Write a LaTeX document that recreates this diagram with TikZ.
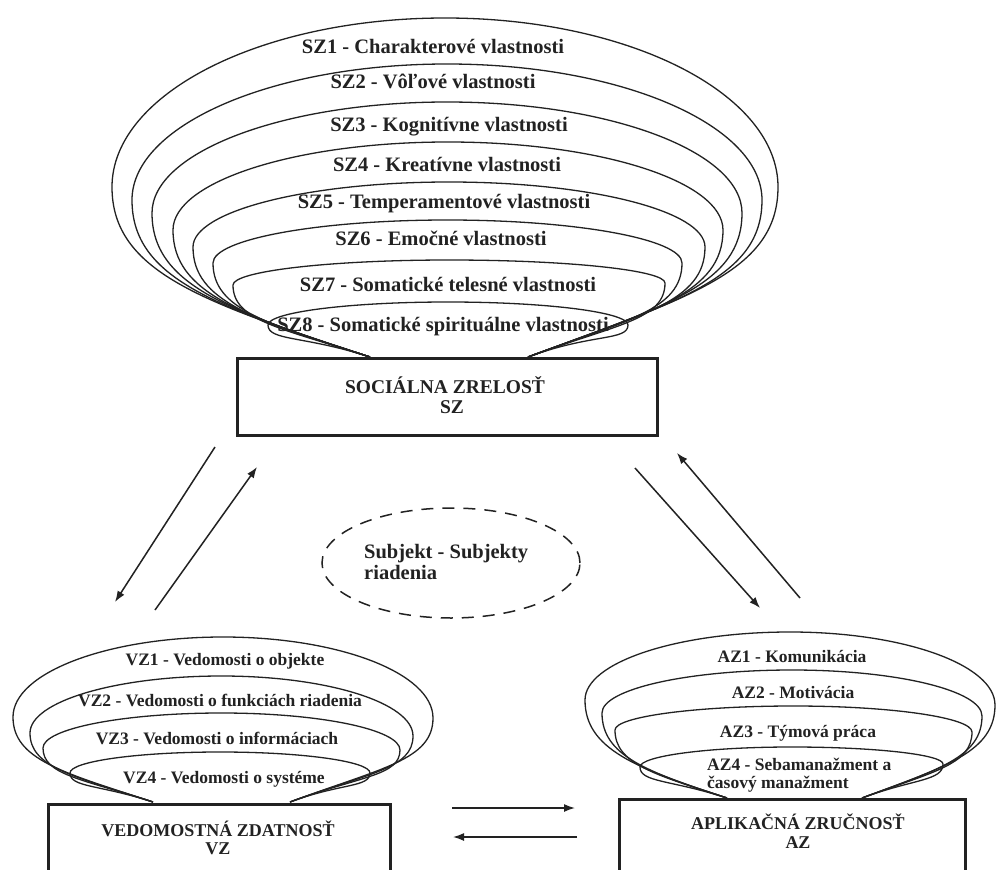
\documentclass[tikz,border=0pt]{standalone}
\usepackage{fontspec}
\setmainfont{Liberation Serif}
\usetikzlibrary{arrows.meta,shapes.geometric}
\definecolor{ink}{HTML}{222222}
\newcommand\funnelloop[9]{%
 \pgfmathsetmacro\flXc{(#5+#8)/2}%
 \pgfmathsetmacro\flS{0.68*(#1-#5)}%
 \pgfmathsetmacro\flAx{#1-0.95*\flS}%
 \pgfmathsetmacro\flAy{#2-0.31*\flS}%
 \pgfmathsetmacro\flBy{#6+0.5*(#2-#6)}%
 \pgfmathsetmacro\flCy{#6-0.552*(#6-#7)}%
 \pgfmathsetmacro\flDx{\flXc-0.552*(\flXc-#5)}%
 \pgfmathsetmacro\flEx{\flXc+0.552*(#8-\flXc)}%
 \pgfmathsetmacro\flFy{#9-0.552*(#9-#7)}%
 \pgfmathsetmacro\flGy{#9+0.5*(#4-#9)}%
 \pgfmathsetmacro\flT{0.68*(#8-#3)}%
 \pgfmathsetmacro\flHx{#3+0.94*\flT}%
 \pgfmathsetmacro\flHy{#4-0.35*\flT}%
 \draw[loopline] (#1,#2) .. controls (\flAx,\flAy) and (#5,\flBy) .. (#5,#6) .. controls (#5,\flCy) and (\flDx,#7) .. (\flXc,#7) .. controls (\flEx,#7) and (#8,\flFy) .. (#8,#9) .. controls (#8,\flGy) and (\flHx,\flHy) .. (#3,#4);
}
\tikzset{
 loopline/.style={draw=ink,line width=1.3pt},
 mainbox/.style={draw=ink,line width=3pt,inner sep=0pt,fill=none},
 szlabel/.style={anchor=base,inner sep=0pt,text=ink,font=\fontsize{20.5}{20.5}\selectfont\bfseries},
 smlabel/.style={anchor=base,inner sep=0pt,text=ink,font=\fontsize{17.5}{17.5}\selectfont\bfseries},
 boxlabel/.style={anchor=base,inner sep=0pt,text=ink,font=\fontsize{19.5}{19.5}\selectfont\bfseries},
 sboxlabel/.style={anchor=base,inner sep=0pt,text=ink,font=\fontsize{18}{18}\selectfont\bfseries},
 subjlabel/.style={anchor=base west,inner sep=0pt,text=ink,font=\fontsize{20.5}{20.5}\selectfont\bfseries},
 link/.style={draw=ink,line width=1.5pt,-{Latex[length=11pt,width=8pt]}},
}
\begin{document}
\begin{tikzpicture}[x=1pt,y=-1pt]
\useasboundingbox (0,0) rectangle (997,870);
\clip (0,0) rectangle (997,870);
\fill[white] (0,0) rectangle (997,870);

% ---------- SZ loops ----------
\funnelloop{370}{357}{528}{357}{112}{187}{18}{778}{187}
\funnelloop{370}{357}{528}{357}{132}{200}{64}{762}{200}
\funnelloop{370}{357}{528}{357}{152}{213}{102}{742}{213}
\funnelloop{370}{357}{528}{357}{173}{230}{142}{723}{230}
\funnelloop{370}{357}{528}{357}{193}{247}{182}{705}{247}
\funnelloop{370}{357}{528}{357}{213}{263}{220}{682}{263}
\funnelloop{370}{357}{528}{357}{233}{285}{260}{665}{283}
\funnelloop{370}{357}{528}{357}{268}{325}{302}{628}{325}

\node[szlabel] (sz1) at (433,53) {SZ1 - Charakterové vlastnosti};
\node[szlabel] (sz2) at (433,88) {SZ2 - Vôľové vlastnosti};
\node[szlabel] (sz3) at (449,131) {SZ3 - Kognitívne vlastnosti};
\node[szlabel] (sz4) at (447,171) {SZ4 - Kreatívne vlastnosti};
\node[szlabel] (sz5) at (444,208) {SZ5 - Temperamentové vlastnosti};
\node[szlabel] (sz6) at (441,245) {SZ6 - Emočné vlastnosti};
\node[szlabel] (sz7) at (448,291) {SZ7 - Somatické telesné vlastnosti};
\node[szlabel] (sz8) at (443,331) {SZ8 - Somatické spirituálne vlastnosti};

\node[mainbox,minimum width=420pt,minimum height=77pt] (szbox) at (447,396.5) {};
\node[boxlabel] (szt1) at (445,393) {SOCIÁLNA ZRELOSŤ};
\node[boxlabel] (szt2) at (452,413) {SZ};

% ---------- VZ loops ----------
\funnelloop{153}{802}{290}{802}{13}{717}{637}{433}{718}
\funnelloop{153}{802}{290}{802}{30}{733}{676}{413}{736}
\funnelloop{153}{802}{290}{802}{43}{748}{713}{400}{750}
\funnelloop{153}{802}{290}{802}{70}{773}{752}{370}{773}

\node[smlabel] (vz1) at (225,665) {VZ1 - Vedomosti o objekte};
\node[smlabel] (vz2) at (220,706) {VZ2 - Vedomosti o funkciách riadenia};
\node[smlabel] (vz3) at (217,744) {VZ3 - Vedomosti o informáciach};
\node[smlabel] (vz4) at (224,783) {VZ4 - Vedomosti o systéme};

\node[mainbox,minimum width=342pt,minimum height=90pt] (vzbox) at (219,849) {};
\node[sboxlabel] (vzt1) at (218,836) {VEDOMOSTNÁ ZDATNOSŤ};
\node[sboxlabel] (vzt2) at (218,854) {VZ};

% ---------- AZ loops ----------
\funnelloop{727}{798}{862}{798}{585}{700}{632}{995}{705}
\funnelloop{727}{798}{862}{798}{602}{713}{670}{982}{716}
\funnelloop{727}{798}{862}{798}{615}{730}{706}{972}{732}
\funnelloop{727}{798}{862}{798}{640}{767}{747}{943}{764}

\node[smlabel] (az1) at (792,662) {AZ1 - Komunikácia};
\node[smlabel] (az2) at (793,698) {AZ2 - Motivácia};
\node[smlabel] (az3) at (798,737) {AZ3 - Týmová práca};
\node[smlabel,anchor=base west] (az4a) at (707,770) {AZ4 - Sebamanažment a};
\node[smlabel,anchor=base west] (az4b) at (707,788) {časový manažment};

\node[mainbox,minimum width=346pt,minimum height=90pt] (azbox) at (792,844) {};
\node[sboxlabel] (azt1) at (798,829) {APLIKAČNÁ ZRUČNOSŤ};
\node[sboxlabel] (azt2) at (798,848) {AZ};

% ---------- dashed ellipse ----------
\node[ellipse,draw=ink,line width=1.5pt,dash pattern=on 12pt off 9pt,minimum width=258pt,minimum height=110pt,inner sep=0pt] (subj) at (451,563) {};
\node[subjlabel] (subjt1) at (364,558) {Subjekt - Subjekty};
\node[subjlabel] (subjt2) at (364,579) {riadenia};

% ---------- arrows ----------
\coordinate (a1s) at (215,447); \coordinate (a1e) at (115,602);
\coordinate (a2s) at (155,610); \coordinate (a2e) at (257,467);
\coordinate (a3s) at (635,468); \coordinate (a3e) at (760,608);
\coordinate (a4s) at (800,598); \coordinate (a4e) at (677,453);
\coordinate (a5s) at (452,808); \coordinate (a5e) at (575,808);
\coordinate (a6s) at (577,837); \coordinate (a6e) at (453,837);
\draw[link] (a1s) -- (a1e);
\draw[link] (a2s) -- (a2e);
\draw[link] (a3s) -- (a3e);
\draw[link] (a4s) -- (a4e);
\draw[link] (a5s) -- (a5e);
\draw[link] (a6s) -- (a6e);
\end{tikzpicture}
\end{document}
